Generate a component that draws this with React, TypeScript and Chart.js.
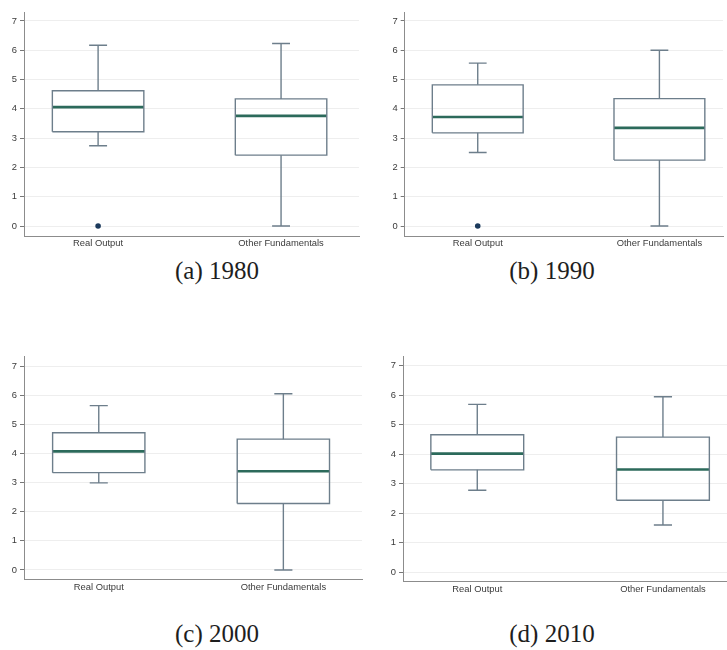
import React, { useEffect, useRef } from "react";
import { Chart, registerables } from "chart.js";

Chart.register(...registerables);

// ---------- data ----------
const categories = ["Real Output", "Other Fundamentals"];
const yTicks = [0, 1, 2, 3, 4, 5, 6, 7];

const lower1980 = [2.74, 0.0];
const q1_1980 = [3.22, 2.42];
const median1980 = [4.06, 3.76];
const q3_1980 = [4.62, 4.34];
const upper1980 = [6.17, 6.23];
const outliers1980 = [[0.0], []];

const lower1990 = [2.51, 0.0];
const q1_1990 = [3.18, 2.25];
const median1990 = [3.72, 3.35];
const q3_1990 = [4.82, 4.35];
const upper1990 = [5.56, 6.0];
const outliers1990 = [[0.0], []];

const lower2000 = [2.99, 0.0];
const q1_2000 = [3.34, 2.28];
const median2000 = [4.07, 3.39];
const q3_2000 = [4.71, 4.49];
const upper2000 = [5.64, 6.05];
const outliers2000 = [[], []];

const lower2010 = [2.78, 1.6];
const q1_2010 = [3.47, 2.44];
const median2010 = [4.02, 3.48];
const q3_2010 = [4.66, 4.58];
const upper2010 = [5.69, 5.95];
const outliers2010 = [[], []];

// ---------- styles ----------
const BOX_COLOR = "#6d7e8b";
const MEDIAN_COLOR = "#2c6a5b";
const OUTLIER_COLOR = "#1b3a5c";
const AXIS_COLOR = "#8c8c8c";
const GRID_COLOR = "#eeeeee";
const BOX_HALF = 0.25;
const CAP_HALF = 0.049;

type PanelProps = {
  lower: number[];
  q1: number[];
  median: number[];
  q3: number[];
  upper: number[];
  outliers: number[][];
  left: number;
  top: number;
  width: number;
  height: number;
  pad: { left: number; top: number; right: number };
  yWidth: number;
  xHeight: number;
  yMin: number;
  yMax: number;
  xMin: number;
  xMax: number;
};

function BoxPanel(p: PanelProps) {
  const ref = useRef<HTMLCanvasElement | null>(null);
  useEffect(() => {
    if (!ref.current) return;
    const lineDs = (data: { x: number; y: number }[], color: string, width: number) => ({
      data,
      showLine: true,
      borderColor: color,
      borderWidth: width,
      pointRadius: 0,
      pointHoverRadius: 0,
      fill: false,
      tension: 0,
    });
    const datasets: any[] = [];
    categories.forEach((_, i) => {
      // box
      datasets.push(
        lineDs(
          [
            { x: i - BOX_HALF, y: p.q1[i] },
            { x: i + BOX_HALF, y: p.q1[i] },
            { x: i + BOX_HALF, y: p.q3[i] },
            { x: i - BOX_HALF, y: p.q3[i] },
            { x: i - BOX_HALF, y: p.q1[i] },
          ],
          BOX_COLOR,
          1.4
        )
      );
      // upper whisker + cap
      datasets.push(
        lineDs(
          [
            { x: i, y: p.q3[i] },
            { x: i, y: p.upper[i] },
            { x: i - CAP_HALF, y: p.upper[i] },
            { x: i + CAP_HALF, y: p.upper[i] },
          ],
          BOX_COLOR,
          1.4
        )
      );
      // lower whisker + cap
      datasets.push(
        lineDs(
          [
            { x: i, y: p.q1[i] },
            { x: i, y: p.lower[i] },
            { x: i - CAP_HALF, y: p.lower[i] },
            { x: i + CAP_HALF, y: p.lower[i] },
          ],
          BOX_COLOR,
          1.4
        )
      );
      // median
      datasets.push(
        lineDs(
          [
            { x: i - BOX_HALF, y: p.median[i] },
            { x: i + BOX_HALF, y: p.median[i] },
          ],
          MEDIAN_COLOR,
          2.6
        )
      );
      // outliers
      if (p.outliers[i].length) {
        datasets.push({
          data: p.outliers[i].map((v) => ({ x: i, y: v })),
          showLine: false,
          pointRadius: 2.8,
          pointBackgroundColor: OUTLIER_COLOR,
          pointBorderColor: OUTLIER_COLOR,
          pointBorderWidth: 0,
        });
      }
    });

    const font = { family: "'Liberation Sans', Arial, sans-serif", size: 9.4 };
    const chart = new Chart(ref.current, {
      type: "scatter",
      data: { datasets },
      options: {
        animation: false,
        responsive: false,
        events: [],
        layout: { padding: { left: p.pad.left, top: p.pad.top, right: p.pad.right, bottom: 0 } },
        plugins: { legend: { display: false }, tooltip: { enabled: false } },
        scales: {
          x: {
            type: "linear",
            min: p.xMin,
            max: p.xMax,
            afterBuildTicks: (s: any) => {
              s.ticks = categories.map((_, i) => ({ value: i }));
            },
            afterFit: (s: any) => {
              s.height = p.xHeight;
            },
            ticks: {
              autoSkip: false,
              maxRotation: 0,
              padding: 2,
              color: "#3a3a3a",
              font,
              callback: (v: any) => categories[Math.round(Number(v))] ?? "",
            },
            grid: { display: false, drawTicks: false },
            border: { display: true, color: AXIS_COLOR, width: 1 },
          },
          y: {
            type: "linear",
            min: p.yMin,
            max: p.yMax,
            afterBuildTicks: (s: any) => {
              s.ticks = yTicks.map((v) => ({ value: v }));
            },
            afterFit: (s: any) => {
              s.width = p.yWidth;
            },
            ticks: { padding: 3, color: "#3a3a3a", font },
            grid: {
              color: GRID_COLOR,
              lineWidth: 1,
              drawTicks: true,
              tickLength: 4,
              tickColor: "#777777",
            },
            border: { display: true, color: AXIS_COLOR, width: 1 },
          },
        },
      },
    });
    return () => chart.destroy();
  }, []);
  return (
    <canvas
      ref={ref}
      width={p.width}
      height={p.height}
      style={{ position: "absolute", left: p.left, top: p.top, display: "block" }}
    />
  );
}

const captionStyle = (cx: number, cy: number): React.CSSProperties => ({
  position: "absolute",
  left: cx - 100,
  top: cy - 16,
  width: 200,
  height: 32,
  lineHeight: "32px",
  textAlign: "center",
  fontFamily: "'Liberation Serif', 'Times New Roman', serif",
  fontSize: 25,
  color: "#1e1e1e",
});

export default function App() {
  return (
    <div
      style={{
        position: "absolute",
        left: 0,
        top: 0,
        width: 727,
        height: 650,
        background: "#ffffff",
        overflow: "hidden",
      }}
    >
      <BoxPanel
        lower={lower1980}
        q1={q1_1980}
        median={median1980}
        q3={q3_1980}
        upper={upper1980}
        outliers={outliers1980}
        left={0}
        top={0}
        width={363}
        height={255}
        pad={{ left: 0, top: 12.7, right: 1 }}
        yWidth={24}
        xHeight={19}
        yMin={-0.341}
        yMax={7.283}
        xMin={-0.405}
        xMax={1.426}
      />
      <BoxPanel
        lower={lower1990}
        q1={q1_1990}
        median={median1990}
        q3={q3_1990}
        upper={upper1990}
        outliers={outliers1990}
        left={363}
        top={0}
        width={364}
        height={255}
        pad={{ left: 17.7, top: 12.7, right: 0 }}
        yWidth={24}
        xHeight={19}
        yMin={-0.341}
        yMax={7.283}
        xMin={-0.402}
        xMax={1.35}
      />
      <BoxPanel
        lower={lower2000}
        q1={q1_2000}
        median={median2000}
        q3={q3_2000}
        upper={upper2000}
        outliers={outliers2000}
        left={0}
        top={345}
        width={363}
        height={255}
        pad={{ left: 0, top: 11.7, right: 1 }}
        yWidth={24}
        xHeight={20.7}
        yMin={-0.32}
        yMax={7.32}
        xMin={-0.405}
        xMax={1.426}
      />
      <BoxPanel
        lower={lower2010}
        q1={q1_2010}
        median={median2010}
        q3={q3_2010}
        upper={upper2010}
        outliers={outliers2010}
        left={363}
        top={345}
        width={364}
        height={255}
        pad={{ left: 16, top: 11.7, right: 0 }}
        yWidth={24}
        xHeight={18.3}
        yMin={-0.32}
        yMax={7.305}
        xMin={-0.4}
        xMax={1.345}
      />
      <div style={captionStyle(217, 271)}>(a) 1980</div>
      <div style={captionStyle(552, 271)}>(b) 1990</div>
      <div style={captionStyle(217, 634)}>(c) 2000</div>
      <div style={captionStyle(552, 634)}>(d) 2010</div>
    </div>
  );
}
